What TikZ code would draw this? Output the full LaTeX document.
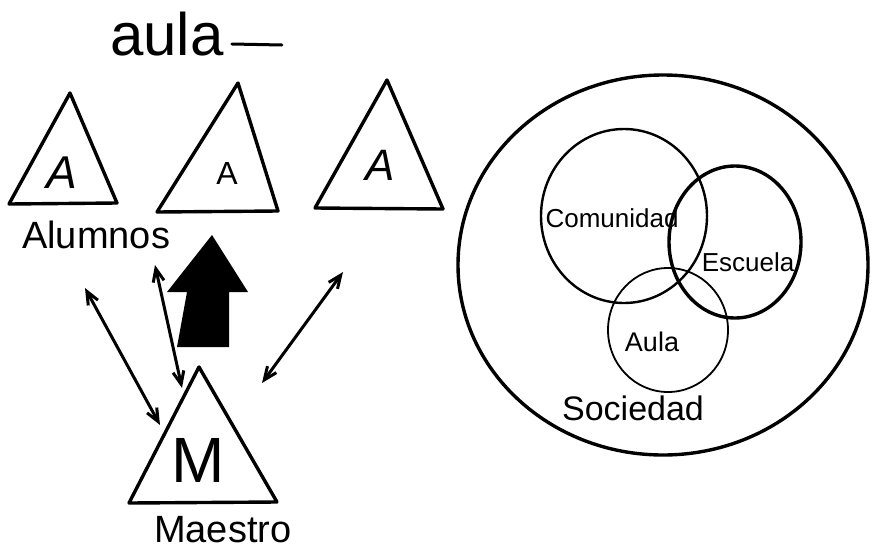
\documentclass[tikz,border=0pt]{standalone}
\usepackage{fontspec}
\setmainfont{Liberation Sans}
\usetikzlibrary{arrows.meta,shapes.geometric}
\begin{document}
\begin{tikzpicture}[x=1pt,y=-1pt,line join=round,line cap=round,
  tri/.style={draw=black,line width=3.4pt},
  lbl/.style={inner sep=0pt,text=black},
  dbl/.style={line width=3pt,{Straight Barb[length=13pt,width=11pt]}-{Straight Barb[length=13pt,width=11pt]}},
  ring/.style={draw=black,ellipse,inner sep=0pt}]
\useasboundingbox (0,0) rectangle (872,549);
\fill[white] (0,0) rectangle (872,549);

% title
\node[lbl,anchor=base west,font=\fontsize{60}{60}\selectfont] (title) at (110,55) {aula};
\draw[line width=3pt] (title.base east) ++(8,-11) -- ++(50,1);

% student triangles
\coordinate (t1a) at (70,93);  \coordinate (t1l) at (9,204);   \coordinate (t1r) at (117,203);
\coordinate (t2a) at (238,83); \coordinate (t2l) at (157,212); \coordinate (t2r) at (278,211);
\coordinate (t3a) at (387,80); \coordinate (t3l) at (315,208); \coordinate (t3r) at (443,209);
\draw[tri] (t1a) -- (t1l) -- (t1r) -- cycle;
\draw[tri] (t2a) -- (t2l) -- (t2r) -- cycle;
\draw[tri] (t3a) -- (t3l) -- (t3r) -- cycle;
\node[lbl,font=\fontsize{46}{46}\selectfont\itshape] (A1) at (62,173) {A};
\node[lbl,font=\fontsize{32}{32}\selectfont] (A2) at (227,173) {A};
\node[lbl,font=\fontsize{44}{44}\selectfont\itshape] (A3) at (380,165) {A};
\node[lbl,anchor=base west,font=\fontsize{38}{38}\selectfont] (alumnos) at (22,248) {Alumnos};

% big arrow
\fill[black] (212,235) -- (248,292) -- (229,292) -- (229,347) -- (177,347) -- (187,292) -- (167,292) -- cycle;

% teacher triangle
\coordinate (ma) at (199,367); \coordinate (ml) at (129,503); \coordinate (mr) at (277,502);
\draw[tri] (ma) -- (ml) -- (mr) -- cycle;
\node[lbl,font=\fontsize{64}{64}\selectfont] (M) at (198,460) {M};
\node[lbl,anchor=base west,font=\fontsize{38}{38}\selectfont] (maestro) at (154,542) {Maestro};

% double arrows
\coordinate (a1s) at (85,288);  \coordinate (a1e) at (160,425);
\coordinate (a2s) at (155,265); \coordinate (a2e) at (182,388);
\coordinate (a3s) at (343,272); \coordinate (a3e) at (262,383);
\draw[dbl] (a1s) -- (a1e);
\draw[dbl] (a2s) -- (a2e);
\draw[dbl] (a3s) -- (a3e);

% Venn
\node[ring,line width=3.4pt,minimum width=410pt,minimum height=380pt] (soc) at (663,265) {};
\node[ring,line width=2.4pt,minimum width=166pt,minimum height=174pt] (com) at (624,216) {};
\node[ring,line width=3.4pt,minimum width=132pt,minimum height=152pt] (esc) at (735,242) {};
\node[ring,line width=1.8pt,minimum width=120pt,minimum height=124pt] (aul) at (668,330) {};
\node[lbl,font=\fontsize{26}{26}\selectfont] (tcom) at (612,218) {Comunidad};
\node[lbl,font=\fontsize{26}{26}\selectfont] (tesc) at (748,262) {Escuela};
\node[lbl,font=\fontsize{27}{27}\selectfont] (taul) at (652,342) {Aula};
\node[lbl,font=\fontsize{34}{34}\selectfont] (tsoc) at (633,408) {Sociedad};
\end{tikzpicture}
\end{document}
